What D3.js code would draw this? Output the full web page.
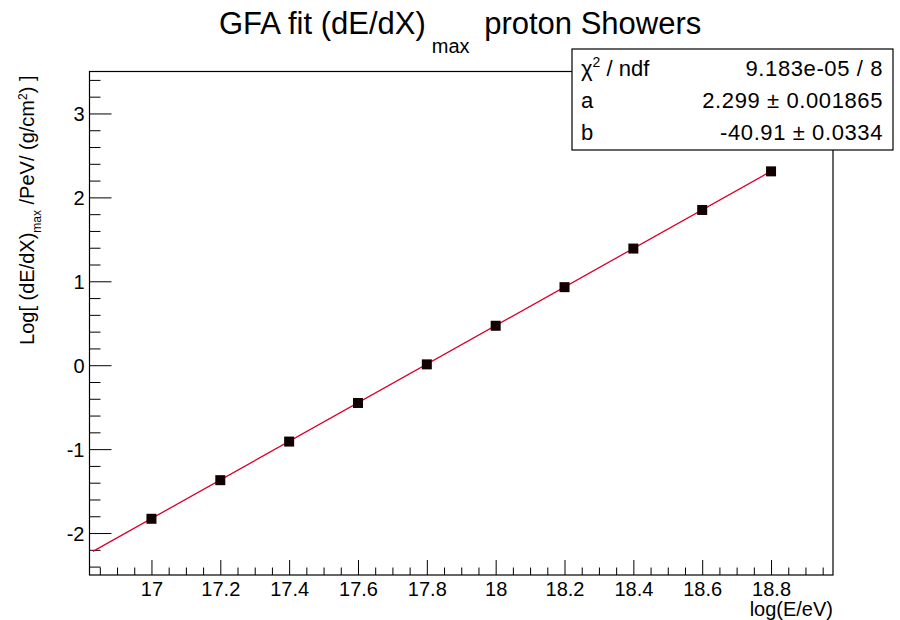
<!DOCTYPE html>
<html>
<head>
<meta charset="utf-8">
<script src="https://cdn.jsdelivr.net/npm/d3@7"></script>
<style>
  html, body { margin: 0; padding: 0; background: #fff; }
  svg { display: block; font-family: "Liberation Sans", Arial, Helvetica, sans-serif; }
</style>
</head>
<body>
<svg id="chart" width="900" height="620"></svg>
<script>
// Shower energy points: log10(E/eV) and log10 of (dE/dX)max in PeV/(g/cm^2)
const logEnergy = [17.0, 17.2, 17.4, 17.6, 17.8, 18.0, 18.2, 18.4, 18.6, 18.8];
const logDedxMax = [-1.83, -1.37, -0.91, -0.45, 0.01, 0.47, 0.93, 1.39, 1.85, 2.31];

// Linear fit y = a*x + b
const fitA = 2.299;
const fitB = -40.91;
const fitRange = [16.83, 18.8];

// Tick values
const xMajorTicks = [17.0, 17.2, 17.4, 17.6, 17.8, 18.0, 18.2, 18.4, 18.6, 18.8];
const xTickLabels = ["17", "17.2", "17.4", "17.6", "17.8", "18", "18.2", "18.4", "18.6", "18.8"];
const yMajorTicks = [-2, -1, 0, 1, 2, 3];
const yTickLabels = ["-2", "-1", "0", "1", "2", "3"];

// Fit statistics box rows
const statNames = ["χ2 / ndf", "a", "b"];
const statValues = ["9.183e-05 / 8", "2.299 ± 0.001865", "-40.91 ± 0.0334"];

const svg = d3.select("#chart");
const frame = { left: 89.5, right: 833, top: 71.5, bottom: 575 };

const x = d3.scaleLinear().domain([16.82, 18.98]).range([frame.left, frame.right]);
const y = d3.scaleLinear().domain([-2.5, 3.5]).range([frame.bottom, frame.top]);

// Minor tick positions
const xMinor = d3.range(16.85, 18.98, 0.05).map(v => +v.toFixed(2))
  .filter(v => !xMajorTicks.some(t => Math.abs(t - v) < 1e-6));
const yMinor = d3.range(-2.4, 3.45, 0.2).map(v => +v.toFixed(2))
  .filter(v => !yMajorTicks.some(t => Math.abs(t - v) < 1e-6));

// X axis (ticks pointing into the frame)
const gx = svg.append("g").attr("transform", `translate(0,${frame.bottom})`);
gx.append("g")
  .call(d3.axisBottom(x).tickValues(xMinor).tickSize(-7.5).tickFormat(""))
  .call(g => g.select(".domain").remove());
gx.append("g")
  .call(d3.axisBottom(x).tickValues(xMajorTicks).tickSize(-15)
    .tickFormat((d, i) => xTickLabels[i]))
  .call(g => g.select(".domain").remove())
  .call(g => g.selectAll("text")
    .attr("y", 21).attr("dy", null)
    .attr("font-size", 20).attr("fill", "#000")
    .attr("font-family", "Liberation Sans, Arial, sans-serif"));

// Y axis
const gy = svg.append("g").attr("transform", `translate(${frame.left},0)`);
gy.append("g")
  .call(d3.axisLeft(y).tickValues(yMinor).tickSize(-11).tickFormat(""))
  .call(g => g.select(".domain").remove());
gy.append("g")
  .call(d3.axisLeft(y).tickValues(yMajorTicks).tickSize(-22)
    .tickFormat((d, i) => yTickLabels[i]))
  .call(g => g.select(".domain").remove())
  .call(g => g.selectAll("text")
    .attr("x", -5).attr("dy", "0.36em")
    .attr("font-size", 20).attr("fill", "#000")
    .attr("font-family", "Liberation Sans, Arial, sans-serif"));

svg.selectAll(".tick line").attr("stroke", "#000").attr("stroke-width", 1);

// Frame
svg.append("rect")
  .attr("x", frame.left).attr("y", frame.top)
  .attr("width", frame.right - frame.left).attr("height", frame.bottom - frame.top)
  .attr("fill", "none").attr("stroke", "#000").attr("stroke-width", 1.2);

// Fit line
const fitLine = d3.line().x(d => x(d)).y(d => y(fitA * d + fitB));
svg.append("path")
  .datum(fitRange)
  .attr("d", fitLine)
  .attr("fill", "none")
  .attr("stroke", "#d8002e")
  .attr("stroke-width", 1.3);

// Data markers
const m = 10;
svg.append("g").selectAll("rect")
  .data(logEnergy)
  .join("rect")
  .attr("x", (d) => x(d) - m / 2)
  .attr("y", (d, i) => y(logDedxMax[i]) - m / 2)
  .attr("width", m).attr("height", m)
  .attr("fill", "#120000");

// Title
const title = svg.append("text")
  .attr("x", 219).attr("y", 34)
  .attr("font-size", 31).attr("fill", "#000");
title.append("tspan").text("GFA fit (dE/dX)");
title.append("tspan").attr("font-size", 20).attr("dx", 6).attr("dy", 19).text("max");
title.append("tspan").attr("dx", 6).attr("dy", -19).text(" proton Showers");

// X axis title
svg.append("text")
  .attr("x", frame.right).attr("y", 616)
  .attr("text-anchor", "end")
  .attr("font-size", 20).attr("fill", "#000")
  .text("log(E/eV)");

// Y axis title
const ylab = svg.append("text")
  .attr("transform", `translate(34,${frame.top + 4}) rotate(-90)`)
  .attr("text-anchor", "end")
  .attr("font-size", 20).attr("fill", "#000");
ylab.append("tspan").text("Log[ (dE/dX)");
ylab.append("tspan").attr("font-size", 12).attr("dy", 7).text("max");
ylab.append("tspan").attr("dy", -7).text(" /PeV/ (g/cm");
ylab.append("tspan").attr("font-size", 12).attr("dy", -7).text("2");
ylab.append("tspan").attr("dy", 7).text(") ]");

// Statistics box
const box = { x: 572, y: 49, w: 321, h: 101 };
const stats = svg.append("g");
stats.append("rect")
  .attr("x", box.x).attr("y", box.y).attr("width", box.w).attr("height", box.h)
  .attr("fill", "#fff").attr("stroke", "#000").attr("stroke-width", 1.2);
const rowBase = [76, 108, 140];
statNames.forEach((name, i) => {
  const t = stats.append("text")
    .attr("x", box.x + 9).attr("y", rowBase[i])
    .attr("font-size", 22).attr("fill", "#000");
  if (name.startsWith("χ2")) {
    t.append("tspan").text("χ");
    t.append("tspan").attr("font-size", 14).attr("dy", -9).text("2");
    t.append("tspan").attr("dy", 9).text(" / ndf");
  } else {
    t.text(name);
  }
  stats.append("text")
    .attr("x", box.x + box.w - 10).attr("y", rowBase[i])
    .attr("text-anchor", "end")
    .attr("font-size", 22).attr("letter-spacing", 0.6).attr("fill", "#000")
    .text(statValues[i]);
});
</script>
</body>
</html>
